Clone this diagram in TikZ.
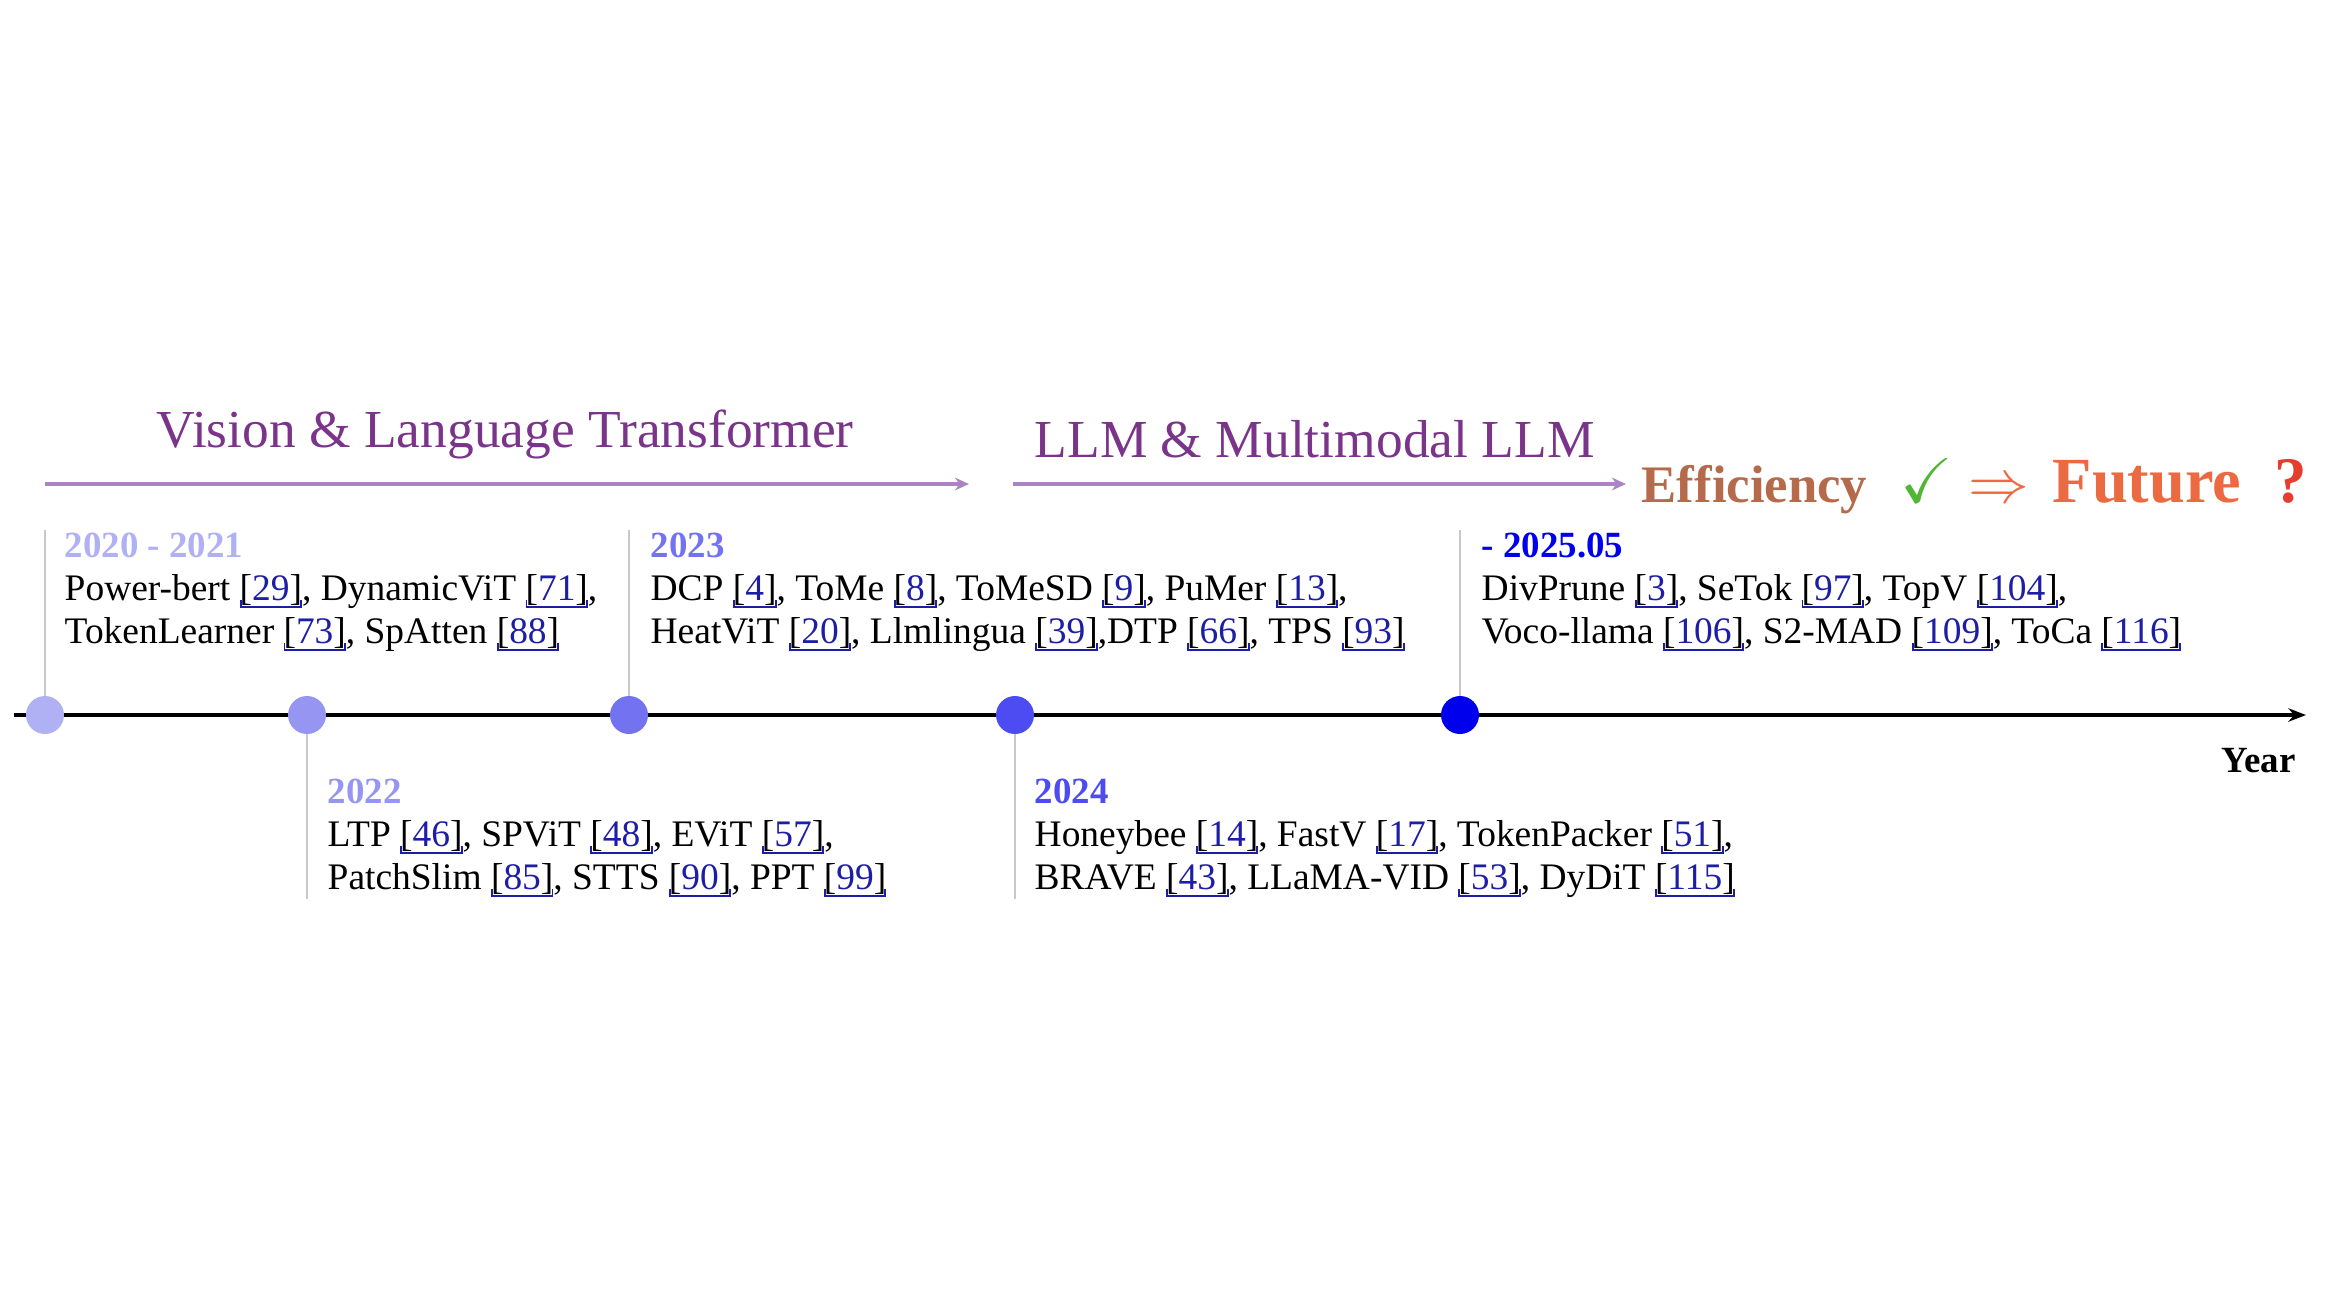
\documentclass[tikz,border=0pt]{standalone}
\usepackage{fontspec}
\setmainfont{Liberation Serif}
\usepackage{amssymb}
\usetikzlibrary{arrows.meta}
\definecolor{linkblue}{RGB}{30,30,165}
\definecolor{eratext}{RGB}{122,52,138}
\definecolor{eraline}{RGB}{172,132,196}
\definecolor{effbrown}{RGB}{182,106,76}
\definecolor{checkgreen}{RGB}{82,182,52}
\definecolor{futorange}{RGB}{236,106,66}
\definecolor{qred}{RGB}{228,62,44}
\definecolor{guidegray}{RGB}{200,200,200}
\definecolor{yA}{RGB}{176,176,245}
\definecolor{yB}{RGB}{150,150,242}
\definecolor{yC}{RGB}{115,115,242}
\definecolor{yD}{RGB}{76,76,242}
\definecolor{yE}{RGB}{0,0,236}
\newcommand\cit[1]{\leavevmode\setbox0\hbox{[\textcolor{linkblue}{#1}]}%
  \rlap{\textcolor{linkblue}{\rule[-2.3pt]{0.55pt}{2.3pt}}}%
  \rlap{\textcolor{linkblue}{\rule[-2.3pt]{\wd0}{0.55pt}}}%
  \rlap{\hspace{\wd0}\hspace{-0.55pt}\textcolor{linkblue}{\rule[-2.3pt]{0.55pt}{2.3pt}}}%
  \box0}
\begin{document}
\begin{tikzpicture}[x=0.01cm,y=-0.01cm,
  body/.style={anchor=base west, inner sep=0, font=\fontsize{10.65}{12}\selectfont},
  yearlab/.style={anchor=base west, inner sep=0, font=\fontsize{10.5}{12}\selectfont\bfseries},
  eratitle/.style={anchor=base west, inner sep=0, text=eratext, font=\fontsize{15.2}{18}\selectfont},
  eraarrow/.style={draw=eraline, line width=1.1pt, -{Stealth[length=4pt,width=3.6pt]}},
  guide/.style={draw=guidegray, line width=0.55pt},
  yeardot/.style={circle, inner sep=0, minimum size=0.38cm, draw=none},
  axis/.style={draw=black, line width=1.3pt, -{Stealth[length=5pt,width=3.8pt]}}
]
\useasboundingbox (0,0) rectangle (2332,1314);

% era titles and arrows
\node[eratitle] (vlt) at (156,447) {Vision \& Language Transformer};
\node[eratitle] (mllm) at (1034,457) {LLM \& Multimodal LLM};
\coordinate (a1s) at (45,484);
\coordinate (a1e) at (969,484);
\coordinate (a2s) at (1013,484);
\coordinate (a2e) at (1626,484);
\draw[eraarrow] (a1s) -- (a1e);
\draw[eraarrow] (a2s) -- (a2e);

\node[anchor=base west, inner sep=0, text=effbrown, font=\fontsize{15}{18}\selectfont\bfseries] (eff) at (1641,502) {Efficiency};
\node[anchor=base west, inner sep=0, text=checkgreen, font=\fontsize{18}{20}\selectfont] (chk) at (1900,502) {$\checkmark$};
\node[anchor=base west, inner sep=0, text=futorange, font=\fontsize{17}{20}\selectfont] (imp) at (1968,502) {$\Rightarrow$};
\node[anchor=base west, inner sep=0, text=futorange, font=\fontsize{18.3}{22}\selectfont\bfseries] (fut) at (2052,502) {Future};
\node[anchor=base west, inner sep=0, text=qred, font=\fontsize{18.5}{22}\selectfont\bfseries] (qm) at (2274,502) {?};

% timeline axis
\coordinate (axs) at (14,715);
\coordinate (axe) at (2306,715);
\coordinate (g1) at (45,530);
\coordinate (g2) at (307,899);
\coordinate (g3) at (629,530);
\coordinate (g4) at (1015,899);
\coordinate (g5) at (1460,530);
\node[yeardot] (d1) at (45,715) {};
\node[yeardot] (d2) at (307,715) {};
\node[yeardot] (d3) at (629,715) {};
\node[yeardot] (d4) at (1015,715) {};
\node[yeardot] (d5) at (1460,715) {};
\draw[guide] (d1.center) -- (g1);
\draw[guide] (d2.center) -- (g2);
\draw[guide] (d3.center) -- (g3);
\draw[guide] (d4.center) -- (g4);
\draw[guide] (d5.center) -- (g5);
\draw[axis] (axs) -- (axe);
\fill[yA] (d1) circle (19);
\fill[yB] (d2) circle (19);
\fill[yC] (d3) circle (19);
\fill[yD] (d4) circle (19);
\fill[yE] (d5) circle (19);
\node[yearlab] (yr) at (2221,772) {Year};

% 2020-2021
\node[yearlab, text=yA] (t1y) at (64,557) {2020 - 2021};
\node[body] (t1a) at (64,600) {Power-bert \cit{29}, DynamicViT \cit{71},};
\node[body] (t1b) at (64,643) {TokenLearner \cit{73}, SpAtten \cit{88}};
% 2022
\node[yearlab, text=yB] (t2y) at (327,803) {2022};
\node[body] (t2a) at (327,846) {LTP \cit{46}, SPViT \cit{48}, EViT \cit{57},};
\node[body] (t2b) at (327,889) {PatchSlim \cit{85}, STTS \cit{90}, PPT \cit{99}};
% 2023
\node[yearlab, text=yC] (t3y) at (650,557) {2023};
\node[body] (t3a) at (650,600) {DCP \cit{4}, ToMe \cit{8}, ToMeSD \cit{9}, PuMer \cit{13},};
\node[body] (t3b) at (650,643) {HeatViT \cit{20}, Llmlingua \cit{39},DTP \cit{66}, TPS \cit{93}};
% 2024
\node[yearlab, text=yD] (t4y) at (1034,803) {2024};
\node[body] (t4a) at (1034,846) {Honeybee \cit{14}, FastV \cit{17}, TokenPacker \cit{51},};
\node[body] (t4b) at (1034,889) {BRAVE \cit{43}, LLaMA-VID \cit{53}, DyDiT \cit{115}};
% 2025
\node[yearlab, text=yE] (t5y) at (1481,557) {- 2025.05};
\node[body] (t5a) at (1481,600) {DivPrune \cit{3}, SeTok \cit{97}, TopV \cit{104},};
\node[body] (t5b) at (1481,643) {Voco-llama \cit{106}, S2-MAD \cit{109}, ToCa \cit{116}};
\end{tikzpicture}
\end{document}
